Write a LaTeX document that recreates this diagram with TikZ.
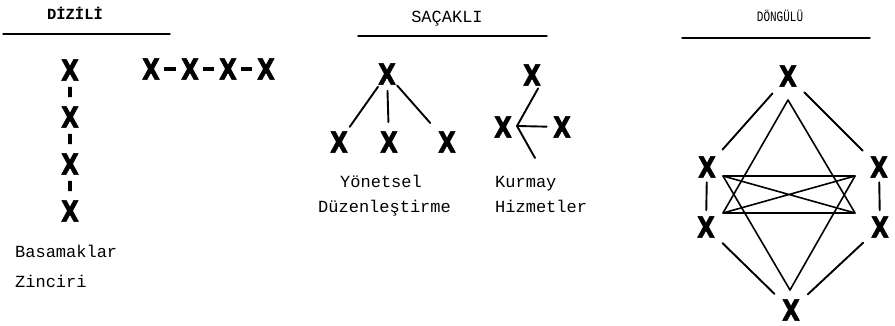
\documentclass[tikz,border=0pt]{standalone}
\usepackage{fontspec}
\setmonofont{Liberation Mono}
\newfontfamily\harf{DejaVu Sans Bold}[FakeBold=2]
\begin{document}
\begin{tikzpicture}[x=1pt, y=-1pt, line join=round, line cap=round,
	kisi/.style={circle, inner sep=0pt, outer sep=0pt, xscale=0.8, font=\harf\fontsize{29}{29}\selectfont},
	yazi/.style={inner sep=0pt, anchor=base west, font=\ttfamily\fontsize{17}{17}\selectfont},
	baslik/.style={inner sep=0pt, anchor=base, font=\ttfamily\fontsize{17}{17}\selectfont},
	tire/.style={line width=3.6pt, line cap=butt},
	dal/.style={line width=1.9pt, shorten <=1.5pt, shorten >=4.5pt},
	kol/.style={line width=1.9pt, shorten <=9.5pt, shorten >=9.5pt},
	ince/.style={line width=1.6pt}]
	\useasboundingbox (0,0) rectangle (895,326);
	
	% dizili
	\node[baslik, font=\ttfamily\bfseries\fontsize{15.5}{15.5}\selectfont] (dizili) at (75,20) {DİZİLİ};
	\draw[line width=1.4pt] (3,34) -- (170,34);
	\foreach \n/\y in {1/70, 2/117, 3/164, 4/211}
	\node[kisi] (d\n) at (70,\y) {X};
	\foreach \n/\x in {1/151, 2/190, 3/228, 4/266}
	\node[kisi] (y\n) at (\x,69) {X};
	\foreach \a/\b in {1/2, 2/3, 3/4}{
		\draw[tire, shorten <=1.5pt, shorten >=4.5pt] (d\a) -- (d\b);
		\draw[tire, shorten <=1pt, shorten >=1.5pt] (y\a) -- (y\b);
	}
	\node[yazi] (basamak) at (15,258) {Basamaklar};
	\node[yazi] (zincir) at (15,287) {Zinciri};
	
	% sacakli
	\node[baslik] (sacakli) at (447,23) {SAÇAKLI};
	\draw[line width=1.4pt] (358,36) -- (547,36);
	\node[kisi] (t0) at (387,74) {X};
	\node[kisi] (t1) at (339,142) {X};
	\node[kisi] (t2) at (389,142) {X};
	\node[kisi] (t3) at (447,142) {X};
	\draw[dal] (t0) -- (t1);
	\draw[dal] (t0) -- (t2);
	\draw[dal, shorten >=11.5pt] (t0) -- (t3);
	\node[kisi] (k0) at (532,75) {X};
	\node[kisi] (k1) at (503,127) {X};
	\node[kisi] (k2) at (562,127) {X};
	\path (517,126) coordinate (kose) (535,158) coordinate (kuyruk);
	\draw[line width=1.9pt] (k0.-60) -- (kose) -- (kuyruk);
	\draw[line width=1.9pt, shorten >=3pt] (kose) -- (k2);
	\node[yazi] (yonetsel) at (340,188) {Yönetsel};
	\node[yazi] (duzen) at (318,213) {Düzenleştirme};
	\node[yazi] (kurmay) at (495,188) {Kurmay};
	\node[yazi] (hizmet) at (495,213) {Hizmetler};
	
	% dongulu
	\node[baslik, font=\ttfamily\fontsize{11}{11}\selectfont, yscale=1.3] (dongulu) at (780,22) {DÖNGÜLÜ};
	\draw[line width=1.4pt] (682,38) -- (870,38);
	\node[kisi] (c0) at (788,76) {X};
	\node[kisi] (c1) at (707,167) {X};
	\node[kisi] (c2) at (706,227) {X};
	\node[kisi] (c3) at (879,167) {X};
	\node[kisi] (c4) at (880,227) {X};
	\node[kisi] (c5) at (791,310) {X};
	\foreach \a/\b in {c0/c1, c0/c3, c2/c5, c4/c5}
	\draw[kol] (\a) -- (\b);
	\draw[line width=1.9pt, shorten >=1.5pt] (c1) -- (c2);
	\draw[line width=1.9pt, shorten >=1.5pt] (c3) -- (c4);
	\path
	(788,100) coordinate (ust)
	(790,290) coordinate (alt)
	(723,176) coordinate (s1)
	(855,176) coordinate (s2)
	(723,213) coordinate (s3)
	(855,213) coordinate (s4);
	\draw[ince] (s3) -- (ust) -- (s4);
	\draw[ince] (s1) -- (alt) -- (s2);
	\draw[ince] (s1) -- (s2) (s3) -- (s4) (s1) -- (s4) (s3) -- (s2);
	
\end{tikzpicture}
\end{document}
